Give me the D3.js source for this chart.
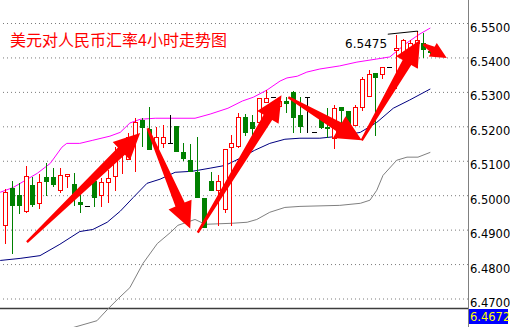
<!DOCTYPE html>
<html>
<head>
<meta charset="utf-8">
<script src="https://cdn.jsdelivr.net/npm/d3@7"></script>
<style>
  body { margin: 0; background: #fff; }
  svg { display: block; }
</style>
</head>
<body>
<div id="chart"></div>
<script>
// 4H candles, oldest first
const open = [6.4911,6.5019,6.4998,6.4952,6.5027,6.4975,6.5051,6.5051,6.5013,6.5053,
  6.5030,6.4978,6.4966,6.5039,6.4998,6.5036,6.5054,6.5120,6.5103,6.5170,
  6.5216,6.5190,6.5135,6.5149,6.5149,6.5199,6.5123,6.5100,6.5065,6.4989,
  6.5039,6.5013,6.4957,6.5138,6.5141,6.5225,6.5210,6.5210,6.5269,6.5283,
  6.5257,6.5272,6.5298,6.5231,6.5283,6.5182,6.5234,6.5196,6.5164,6.5254,
  6.5243,6.5202,6.5254,6.5286,6.5353,6.5350,6.5370,6.5420,6.5400,6.5420,
  6.5440,6.5440,6.5417];
const high = [6.5016,6.5039,6.5033,6.5083,6.5051,6.5059,6.5091,6.5077,6.5077,6.5059,
  6.5062,6.5007,6.4966,6.5042,6.5048,6.5071,6.5138,6.5138,6.5178,6.5222,
  6.5222,6.5254,6.5196,6.5202,6.5231,6.5199,6.5149,6.5146,6.5167,6.4989,
  6.5065,6.5056,6.5132,6.5173,6.5237,6.5234,6.5231,6.5280,6.5304,6.5283,
  6.5272,6.5283,6.5301,6.5283,6.5283,6.5182,6.5234,6.5252,6.5260,6.5254,
  6.5243,6.5260,6.5341,6.5362,6.5353,6.5370,6.5370,6.5464,6.5452,6.5449,
  6.5475,6.5469,6.5429];
const low = [6.4861,6.4832,6.4946,6.4949,6.4966,6.4960,6.4998,6.5024,6.5007,6.5021,
  6.4969,6.4949,6.4966,6.4966,6.4966,6.4978,6.5013,6.5062,6.5103,6.5068,
  6.5141,6.5132,6.5135,6.5138,6.5149,6.5126,6.5100,6.5068,6.4992,6.4905,
  6.5013,6.4911,6.4951,6.4911,6.5138,6.5173,6.5173,6.5210,6.5269,6.5283,
  6.5257,6.5240,6.5182,6.5182,6.5182,6.5182,6.5193,6.5167,6.5135,6.5193,
  6.5193,6.5202,6.5245,6.5286,6.5173,6.5338,6.5370,6.5309,6.5391,6.5414,
  6.5370,6.5400,6.5405];
const close = [6.5007,6.4969,6.4969,6.5054,6.4972,6.5036,6.5039,6.5030,6.5056,6.5059,
  6.4992,6.4972,6.4966,6.4992,6.5036,6.5048,6.5120,6.5135,6.5167,6.5210,
  6.5196,6.5132,6.5167,6.5167,6.5149,6.5126,6.5106,6.5068,6.4992,6.4905,
  6.5013,6.5039,6.5132,6.5149,6.5225,6.5181,6.5193,6.5280,6.5280,6.5283,
  6.5272,6.5266,6.5225,6.5199,6.5283,6.5182,6.5196,6.5193,6.5252,6.5245,
  6.5202,6.5254,6.5335,6.5350,6.5341,6.5370,6.5370,6.5426,6.5449,6.5440,
  6.5449,6.5423,6.5414];

// bollinger bands: [candle index, price]
const upperBand = [[-0.7,6.5007],[1.2,6.5021],[4.7,6.5062],[6.6,6.5091],[8.3,6.5138],[9.0,6.5149],
  [10.9,6.5149],[12.8,6.5158],[15.3,6.5170],[16.8,6.5181],[18.2,6.5208],[19.7,6.5219],
  [21.9,6.5222],[27.7,6.5222],[29.9,6.5234],[32.5,6.5251],[34.6,6.5272],[36.2,6.5283],
  [38.2,6.5304],[40.1,6.5330],[41.1,6.5339],[42.6,6.5344],[44.0,6.5356],[45.9,6.5365],
  [48.8,6.5374],[51.3,6.5385],[54.2,6.5394],[56.1,6.5400],[57.3,6.5420],[58.6,6.5441],
  [60.5,6.5467],[62.0,6.5484]];
const midBand = [[-0.7,6.4809],[2.2,6.4815],[5.1,6.4823],[8.0,6.4856],[10.9,6.4893],[12.8,6.4899],
  [14.9,6.4920],[16.8,6.4952],[18.7,6.4992],[20.7,6.5033],[22.6,6.5045],[24.8,6.5065],
  [27.3,6.5068],[29.9,6.5077],[32.1,6.5085],[34.3,6.5106],[36.4,6.5129],[38.6,6.5149],
  [40.8,6.5161],[43.0,6.5164],[45.9,6.5164],[48.8,6.5170],[51.8,6.5181],[54.2,6.5210],
  [56.6,6.5251],[59.0,6.5275],[62.0,6.5307]];
const lowerBand = [[8.7,6.4591],[9.9,6.4614],[13.4,6.4634],[14.9,6.4666],[16.5,6.4698],[18.2,6.4730],
  [20.1,6.4800],[22.2,6.4858],[24.1,6.4890],[25.2,6.4911],[27.7,6.4928],[29.2,6.4914],
  [33.1,6.4917],[35.3,6.4920],[36.7,6.4928],[38.6,6.4949],[40.8,6.4963],[43.0,6.4966],
  [48.8,6.4969],[51.8,6.4975],[53.2,6.4984],[54.2,6.5013],[55.1,6.5056],[57.1,6.5100],
  [58.6,6.5109],[60.2,6.5109],[62.0,6.5123]];

// hand-drawn arrows: [from index, from price, to index, to price]
const arrows = [[3.2,6.4862,19.7,6.5179],[20.8,6.5193,27.0,6.4902],[28.1,6.4890,40.3,6.5289],
  [41.3,6.5283,52.0,6.5158],[52.0,6.5158,60.5,6.5449],[61.0,6.5437,64.4,6.5397]];

const priceTicks = [6.47,6.48,6.49,6.50,6.51,6.52,6.53,6.54,6.55];
const lastPrice = 6.4672;
const highPrice = 6.5475, highIndex = 60;
const title = "美元对人民币汇率4小时走势图";

const W = 510, H = 327, plotW = 468;

const svg = d3.select("#chart").append("svg")
  .attr("width", W).attr("height", H);

const x = d3.scaleLinear().domain([0, 62]).range([5, 5 + 6.86 * 62]);
const y = d3.scaleLinear().domain([6.47, 6.55]).range([298, 22.5]);

svg.append("clipPath").attr("id", "plot")
  .append("rect").attr("width", plotW).attr("height", H);

// grid
svg.append("g")
  .attr("transform", `translate(${plotW},0)`)
  .call(d3.axisLeft(y).tickValues(priceTicks).tickSize(plotW).tickFormat(""))
  .call(g => g.select(".domain").remove())
  .selectAll("line")
  .attr("stroke", "#7a7a7a")
  .attr("stroke-dasharray", "1,3")
  .attr("transform", "translate(0,0.5)");

const plot = svg.append("g").attr("clip-path", "url(#plot)");

// bid line
plot.append("line")
  .attr("x1", 0).attr("x2", plotW)
  .attr("y1", Math.round(y(lastPrice)) + 0.5).attr("y2", Math.round(y(lastPrice)) + 0.5)
  .attr("stroke", "#3c3c3c").attr("stroke-width", 1.5);

const line = d3.line().x(d => x(d[0])).y(d => y(d[1]));
[[lowerBand, "#808080"], [midBand, "#000080"], [upperBand, "#ff00ff"]].forEach(([band, col]) => {
  plot.append("path").datum(band)
    .attr("d", line).attr("fill", "none")
    .attr("stroke", col).attr("stroke-width", 1);
});

// candles
const candles = open.map((o, i) => ({ i, o, h: high[i], l: low[i], c: close[i] }));
const colorOf = d => d.c > d.o ? "#ff0000" : d.c < d.o ? "#008000" : "#000000";
const cx = d => Math.round(x(d.i));

const cg = plot.selectAll(".candle").data(candles).enter().append("g").attr("class", "candle");
cg.append("line")
  .attr("x1", d => cx(d) + 0.5).attr("x2", d => cx(d) + 0.5)
  .attr("y1", d => Math.round(y(d.h))).attr("y2", d => Math.round(y(d.l)) + 1)
  .attr("stroke", colorOf);
cg.filter(d => d.c > d.o).append("rect")
  .attr("x", d => cx(d) - 1.5).attr("width", 4)
  .attr("y", d => Math.round(y(d.c)) + 0.5)
  .attr("height", d => Math.max(1, Math.round(y(d.o)) - Math.round(y(d.c))))
  .attr("fill", "#fff").attr("stroke", "#ff0000");
cg.filter(d => d.c < d.o).append("rect")
  .attr("x", d => cx(d) - 2).attr("width", 5)
  .attr("y", d => Math.round(y(d.o)))
  .attr("height", d => Math.max(1, Math.round(y(d.c)) - Math.round(y(d.o)) + 1))
  .attr("fill", "#008000");
cg.filter(d => d.c === d.o).append("line")
  .attr("x1", d => cx(d) - 2).attr("x2", d => cx(d) + 3)
  .attr("y1", d => Math.round(y(d.c)) + 0.5).attr("y2", d => Math.round(y(d.c)) + 0.5)
  .attr("stroke", "#000");

// arrows
function arrowPath(a) {
  const x0 = x(a[0]), y0 = y(a[1]), x1 = x(a[2]), y1 = y(a[3]);
  const dx = x1 - x0, dy = y1 - y0, len = Math.hypot(dx, dy);
  const ux = dx / len, uy = dy / len, nx = -uy, ny = ux;
  const hl = Math.min(26, len * 0.6), hw = hl * 0.48;
  const bx = x1 - ux * hl, by = y1 - uy * hl;
  const sw0 = 1.2, sw1 = Math.min(5, hw * 0.45);
  const pts = [
    [x0 + nx * sw0, y0 + ny * sw0], [bx + nx * sw1, by + ny * sw1], [bx + nx * hw, by + ny * hw],
    [x1, y1],
    [bx - nx * hw, by - ny * hw], [bx - nx * sw1, by - ny * sw1], [x0 - nx * sw0, y0 - ny * sw0]
  ];
  return "M" + pts.map(p => p.join(",")).join("L") + "Z";
}
plot.selectAll(".arrow").data(arrows).enter().append("path")
  .attr("class", "arrow")
  .attr("d", arrowPath)
  .attr("fill", "#ff0000");

// high marker
plot.append("path")
  .attr("d", `M${x(highIndex - 4.2)},${y(highPrice - 0.0009)}L${x(highIndex) + 1},${y(highPrice)}L${x(highIndex) + 1},${y(highPrice - 0.0003)}`)
  .attr("fill", "none").attr("stroke", "#000");
plot.append("text")
  .attr("x", x(highIndex - 4.3)).attr("y", y(highPrice) + 17)
  .attr("text-anchor", "end")
  .attr("font-family", "DejaVu Sans, sans-serif").attr("font-size", "12px")
  .attr("fill", "#000")
  .text(d3.format(".4f")(highPrice));

// price axis
const axis = svg.append("g")
  .attr("transform", `translate(${plotW},0)`)
  .call(d3.axisRight(y).tickValues(priceTicks).tickSize(0).tickPadding(2).tickFormat(d3.format(".4f")));
axis.select(".domain").remove();
axis.selectAll("text")
  .attr("dy", "0.74em")
  .attr("font-family", "DejaVu Sans, sans-serif").attr("font-size", "11.5px")
  .attr("fill", "#000");
svg.append("line")
  .attr("x1", plotW + 0.5).attr("x2", plotW + 0.5).attr("y1", 0).attr("y2", H)
  .attr("stroke", "#808080");

// current price tag
const ly = Math.round(y(lastPrice));
svg.append("rect")
  .attr("x", plotW + 1).attr("y", ly + 1).attr("width", 39).attr("height", 15)
  .attr("fill", "#0000ff");
svg.append("text")
  .attr("x", plotW + 2).attr("y", ly + 13)
  .attr("font-family", "DejaVu Sans, sans-serif").attr("font-size", "11.5px")
  .attr("fill", "#ffff00")
  .text(d3.format(".4f")(lastPrice));

// title
svg.append("text")
  .attr("x", 10).attr("y", 46)
  .attr("font-family", "Noto Sans CJK SC, sans-serif").attr("font-size", "16px")
  .attr("fill", "#ff0000")
  .text(title);
</script>
</body>
</html>
